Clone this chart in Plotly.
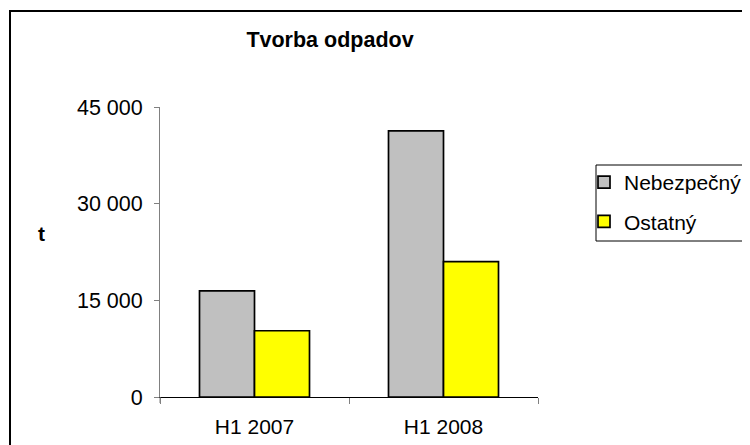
import plotly.graph_objects as go

categories = ["H1 2007", "H1 2008"]
nebezpecny = [16480, 41280]
ostatny = [10280, 21020]
y_ticks = [0, 15000, 30000, 45000]
y_tick_labels = ["0", "15 000", "30 000", "45 000"]

FONT = "Arial, Liberation Sans, sans-serif"
OFF = 8  # default page margin around the figure
W, H = 800, 480
L, T = 160 - OFF, 107 - OFF
R = W - (538 - OFF)
B = H - (397 - OFF)
pw, ph = W - L - R, H - T - B

def px(x):
    return (x - OFF - L) / pw

def py(y):
    return (H - B - (y - OFF)) / ph

fig = go.Figure()
fig.add_trace(go.Bar(name="Nebezpečný", x=categories, y=nebezpecny,
                     marker=dict(color="#C0C0C0", line=dict(color="black", width=1.7)),
                     legendgroup="a"))
fig.add_trace(go.Bar(name="Ostatný", x=categories, y=ostatny,
                     marker=dict(color="#FFFF00", line=dict(color="black", width=1.7)),
                     legendgroup="b"))

fig.update_layout(
    width=W, height=H,
    margin=dict(l=L, r=R, t=T, b=B, pad=0),
    paper_bgcolor="white", plot_bgcolor="white",
    font=dict(family=FONT, size=21, color="black"),
    barmode="group", bargap=0.418, bargroupgap=0,
    title=dict(text="<b>Tvorba odpadov</b>", xref="paper", x=px(330), xanchor="center",
               yref="container", y=1 - (39 - OFF) / H, yanchor="middle",
               font=dict(family=FONT, size=21.5, color="black")),
    showlegend=True,
    legend=dict(x=px(584), xanchor="left", y=py(162), yanchor="top",
                bgcolor="rgba(0,0,0,0)", borderwidth=0, tracegroupgap=9,
                font=dict(family=FONT, size=21, color="black")),
    xaxis=dict(showline=True, linecolor="black", linewidth=1, ticks="outside",
               tickson="boundaries", ticklen=6, tickcolor="#808080", showgrid=False,
               ticklabelstandoff=11, automargin=False,
               tickfont=dict(family=FONT, size=21, color="black")),
    yaxis=dict(range=[0, 45000], tickvals=y_ticks, ticktext=y_tick_labels,
               showline=True, linecolor="#808080", linewidth=1, ticks="outside",
               ticklen=5, tickcolor="#808080", showgrid=False, zeroline=False,
               ticklabelstandoff=7, automargin=False,
               tickfont=dict(family=FONT, size=21.5, color="black")),
    shapes=[
        dict(type="rect", xref="paper", yref="paper", x0=px(10), x1=px(775),
             y0=py(470), y1=py(11), line=dict(color="black", width=2), layer="below"),
        dict(type="rect", xref="paper", yref="paper", x0=px(596), x1=px(775),
             y0=py(241), y1=py(165), line=dict(color="black", width=1)),
        dict(type="line", xref="paper", yref="paper", x0=0, x1=0,
             y0=py(403), y1=py(397), line=dict(color="#808080", width=1)),
    ],
    annotations=[
        dict(text="<b>t</b>", xref="paper", yref="paper", x=px(41), y=py(233),
             xanchor="center", yanchor="middle", showarrow=False,
             font=dict(family=FONT, size=21, color="black")),
    ],
)

fig.write_html("out.html", config={"displayModeBar": False},
               post_script="document.body.style.overflow='hidden';")
